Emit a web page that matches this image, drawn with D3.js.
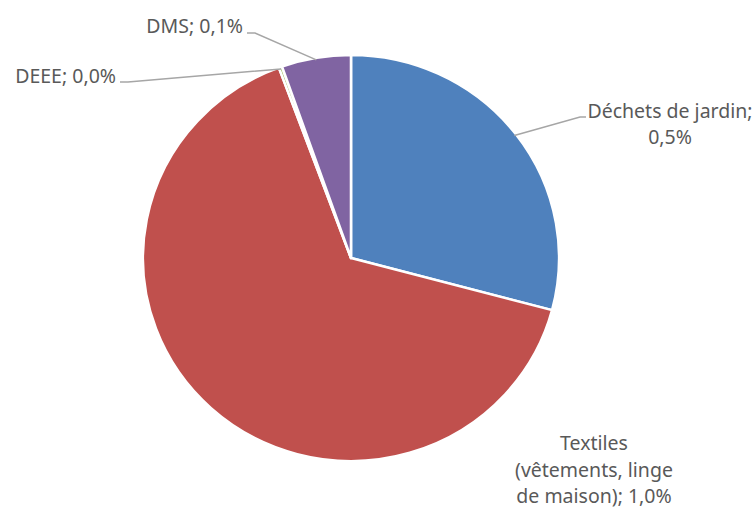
<!DOCTYPE html>
<html><head><meta charset="utf-8">
<script src="https://cdn.jsdelivr.net/npm/d3@7"></script>
<style>body{margin:0;background:#fff}svg{display:block}</style>
</head><body>
<svg id="c" width="756" height="508"></svg>
<script>
const categories = ["Déchets de jardin", "Textiles (vêtements, linge de maison)", "DEEE", "DMS"];
const values = [0.46, 1.03, 0.004, 0.085];
const valueLabels = ["0,5%", "1,0%", "0,0%", "0,1%"];
const colors = ["#4F81BD", "#C0504D", "#9BBB59", "#8064A2"];

const svg = d3.select("#c");
const cx = 351, cy = 258, r = 203, sx = 1.025;
const g = svg.append("g").attr("transform", `translate(${cx},${cy}) scale(${sx},1)`);
const pie = d3.pie().sort(null).value(d => d)(values);
const arc = d3.arc().innerRadius(0).outerRadius(r);
g.selectAll("path.s").data(pie).join("path").attr("class","s")
  .attr("d", arc).attr("fill", (d,i) => colors[i])
  .attr("stroke", "#fff").attr("stroke-width", 2.5).attr("stroke-linejoin","round");

function edge(d, rr) { const a = (d.startAngle + d.endAngle) / 2; return [Math.sin(a) * rr * sx, -Math.cos(a) * rr]; }
const font = "'Noto Sans', sans-serif";
const fs = 19.5;
const txt = "#595959", lineCol = "#A6A6A6";

const layouts = [
  { pts: [[580,117],[586,117]], lines: [[670,118,"middle", categories[0] + ";"],[670,144,"middle", valueLabels[0]]] },
  { pts: null, lines: [[594,450,"middle","Textiles"],[594,477,"middle","(vêtements, linge"],[594,503,"middle","de maison); " + valueLabels[1]]] },
  { pts: [[128,82],[120,82]], lines: [[116,83,"end", categories[2] + "; " + valueLabels[2]]] },
  { pts: [[255,33],[247,33]], lines: [[243,33,"end", categories[3] + "; " + valueLabels[3]]] }
];

pie.forEach((d, i) => {
  const L = layouts[i];
  if (L.pts) {
    const p0 = edge(d, r - 2);
    const pts = [[cx + p0[0], cy + p0[1]], ...L.pts];
    svg.append("path").attr("d", d3.line()(pts)).attr("fill","none")
      .attr("stroke", lineCol).attr("stroke-width", 1.5);
  }
  L.lines.forEach(([x, y, anchor, t]) => {
    svg.append("text").attr("x", x).attr("y", y).attr("text-anchor", anchor)
      .attr("font-family", font).attr("font-size", fs).attr("fill", txt).text(t);
  });
});
</script>
</body></html>
